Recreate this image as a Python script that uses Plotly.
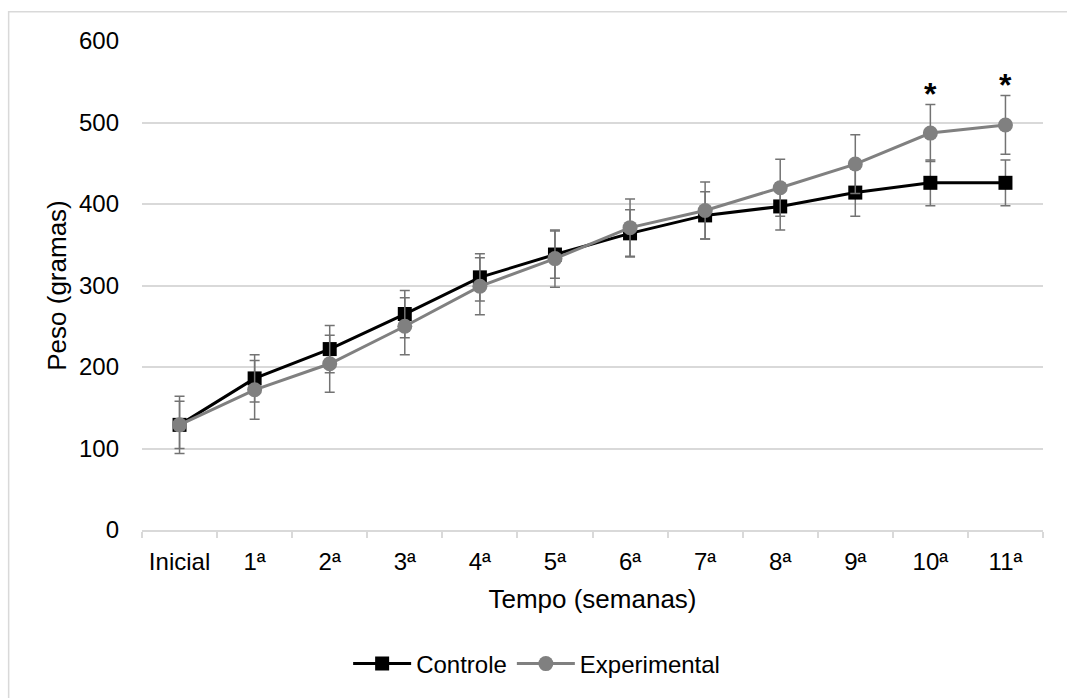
import plotly.graph_objects as go

semanas = ["Inicial", "1ª", "2ª", "3ª", "4ª", "5ª", "6ª", "7ª", "8ª", "9ª", "10ª", "11ª"]
controle = [129, 186, 222, 265, 310, 338, 364, 386, 397, 414, 426, 426]
controle_dp = [29, 29, 29, 29, 29, 29, 29, 29, 29, 29, 28, 28]
experimental = [129, 172, 204, 250, 299, 333, 371, 392, 420, 449, 487, 497]
experimental_dp = [35, 36, 35, 35, 35, 35, 35, 35, 35, 36, 35, 36]
significativo = [False, False, False, False, False, False, False, False, False, False, True, True]

FONT = "Liberation Sans, Arial, sans-serif"
GRID = "#d9d9d9"
ERR = "#737373"

fig = go.Figure()
fig.add_trace(go.Scatter(
    x=semanas, y=controle, name="Controle", mode="lines+markers",
    line=dict(color="#000000", width=3),
    marker=dict(symbol="square", size=14, color="#000000"),
    error_y=dict(type="data", array=controle_dp, visible=True, color=ERR, thickness=1.5, width=5),
))
fig.add_trace(go.Scatter(
    x=semanas, y=experimental, name="Experimental", mode="lines+markers",
    line=dict(color="#808080", width=3),
    marker=dict(symbol="circle", size=15, color="#808080"),
    error_y=dict(type="data", array=experimental_dp, visible=True, color=ERR, thickness=1.5, width=5),
))

for s, v, d, sig in zip(semanas, experimental, experimental_dp, significativo):
    if sig:
        fig.add_annotation(x=s, y=v + d, text="<b>*</b>", showarrow=False,
                           yanchor="middle", yshift=11,
                           font=dict(family=FONT, size=32, color="#000000"))

# outer chart-area border
fig.add_shape(type="rect", xref="paper", yref="paper",
              x0=-0.148, x1=1.2, y0=-0.5, y1=1.06,
              line=dict(color=GRID, width=1.5), fillcolor="rgba(0,0,0,0)", layer="below")

fig.update_layout(
    width=1067, height=698,
    margin=dict(l=142, r=24, t=41, b=165),
    paper_bgcolor="white", plot_bgcolor="white",
    font=dict(family=FONT, size=24, color="#000000"),
    showlegend=True,
    legend=dict(orientation="h", x=0.438, xanchor="center", y=-0.274, yanchor="middle",
                font=dict(size=24), itemwidth=58, traceorder="normal"),
    hovermode=False,
)
fig.update_xaxes(
    type="category", range=[-0.5, 11.5], automargin=False,
    showline=True, linecolor=GRID, linewidth=1.5,
    ticks="outside", tickson="boundaries", ticklen=6, tickcolor=GRID, tickwidth=1.5,
    showgrid=False,
    tickfont=dict(size=24), ticklabelstandoff=9,
    title=dict(text="Tempo (semanas)", font=dict(size=26), standoff=16),
)
fig.update_yaxes(
    range=[0, 600], dtick=100, tick0=0, automargin=False,
    showgrid=True, gridcolor=GRID, gridwidth=1.5,
    zeroline=False, showline=False,
    ticks="", ticklabelstandoff=22,
    tickfont=dict(size=24),
    title=dict(text="Peso (gramas)", font=dict(size=26), standoff=4),
)

fig.write_html("out.html")
